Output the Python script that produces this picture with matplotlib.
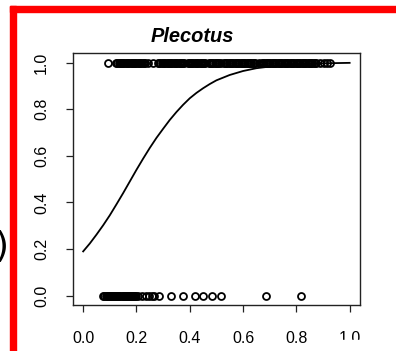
import matplotlib
matplotlib.use("Agg")
import matplotlib.pyplot as plt
from matplotlib.patches import Rectangle

# Presence (1) and absence (0) observations along the habitat gradient
present_x = [0.092, 0.124, 0.128, 0.133, 0.137, 0.142, 0.146, 0.151, 0.155, 0.160,
             0.164, 0.169, 0.173, 0.178, 0.182, 0.187, 0.191, 0.196, 0.200, 0.205,
             0.209, 0.214, 0.218, 0.223, 0.227, 0.232, 0.244, 0.262, 0.281, 0.286,
             0.290, 0.295, 0.299, 0.304, 0.308, 0.313, 0.317, 0.322, 0.326, 0.331,
             0.335, 0.340, 0.344, 0.349, 0.353, 0.358, 0.362, 0.367, 0.371, 0.376,
             0.380, 0.392, 0.396, 0.401, 0.405, 0.410, 0.414, 0.419, 0.423, 0.428,
             0.432, 0.437, 0.441, 0.446, 0.450, 0.455, 0.459, 0.471, 0.475, 0.480,
             0.484, 0.489, 0.493, 0.498, 0.502, 0.507, 0.511, 0.516, 0.528, 0.532,
             0.537, 0.541, 0.546, 0.550, 0.555, 0.559, 0.564, 0.568, 0.573, 0.577,
             0.582, 0.586, 0.591, 0.595, 0.600, 0.604, 0.609, 0.613, 0.618, 0.622,
             0.627, 0.631, 0.636, 0.640, 0.645, 0.658, 0.671, 0.676, 0.680, 0.685,
             0.689, 0.694, 0.698, 0.703, 0.707, 0.712, 0.716, 0.721, 0.725, 0.730,
             0.734, 0.739, 0.743, 0.748, 0.752, 0.757, 0.761, 0.766, 0.770, 0.775,
             0.779, 0.784, 0.788, 0.793, 0.797, 0.802, 0.806, 0.811, 0.815, 0.820,
             0.824, 0.829, 0.833, 0.838, 0.842, 0.847, 0.851, 0.856, 0.860, 0.865,
             0.869, 0.874, 0.888, 0.905, 0.916, 0.925]
absent_x = [0.076, 0.080, 0.084, 0.088, 0.092, 0.096, 0.100, 0.104, 0.108, 0.112,
            0.116, 0.120, 0.124, 0.128, 0.132, 0.136, 0.140, 0.144, 0.148, 0.152,
            0.156, 0.160, 0.164, 0.168, 0.172, 0.176, 0.180, 0.184, 0.188, 0.192,
            0.196, 0.200, 0.206, 0.222, 0.236, 0.248, 0.258, 0.266, 0.283, 0.328,
            0.376, 0.419, 0.451, 0.482, 0.516, 0.687, 0.816]

# Fitted probability of presence
fit_x = [0.000, 0.025, 0.050, 0.075, 0.100, 0.125, 0.150, 0.175, 0.200, 0.225,
         0.250, 0.275, 0.300, 0.325, 0.350, 0.375, 0.400, 0.425, 0.450, 0.475,
         0.500, 0.550, 0.600, 0.650, 0.700, 0.750, 0.800, 0.850, 0.900, 0.950, 1.000]
fit_y = [0.190, 0.224, 0.262, 0.302, 0.345, 0.392, 0.440, 0.490, 0.540, 0.588,
         0.634, 0.677, 0.716, 0.754, 0.788, 0.819, 0.847, 0.870, 0.890, 0.908,
         0.924, 0.947, 0.964, 0.976, 0.983, 0.989, 0.993, 0.995, 0.997, 0.998, 0.999]

ticks = [0.0, 0.2, 0.4, 0.6, 0.8, 1.0]
tick_labels = ["0.0", "0.2", "0.4", "0.6", "0.8", "1.0"]
title = "Plecotus"

W, H = 396, 351
fig = plt.figure(figsize=(W / 100, H / 100), dpi=100)
fig.patch.set_facecolor("white")
plt.rcParams["font.family"] = ["Liberation Sans", "DejaVu Sans"]

ax = fig.add_axes([72.5 / W, (H - 305) / H, (360.3 - 72.5) / W, (305 - 53.3) / H])
ax.plot(fit_x, fit_y, color="black", lw=1.3, zorder=2)
ax.plot(present_x, [1] * len(present_x), ls="none", marker="o", ms=5.0,
        mfc="none", mec="black", mew=1.3, zorder=3)
ax.plot(absent_x, [0] * len(absent_x), ls="none", marker="o", ms=5.0,
        mfc="none", mec="black", mew=1.3, zorder=3)

ax.set_xlim(-0.04, 1.04)
ax.set_ylim(-0.04, 1.04)
ax.set_xticks(ticks)
ax.set_xticklabels(tick_labels, fontsize=11.5)
ax.set_yticks(ticks)
ax.set_yticklabels(tick_labels, fontsize=11.5, rotation=90, va="center")
ax.tick_params(axis="both", direction="out", length=5, width=0.9, color="#222222")
ax.tick_params(axis="x", pad=14)
ax.tick_params(axis="y", pad=12)
for s in ax.spines.values():
    s.set_linewidth(1.0)
    s.set_color("#222222")

fig.text(192.5 / W, 1 - 36 / H, title, ha="center", va="center",
         fontsize=14.4, fontweight="bold", fontstyle="italic", color="black")

# Red frame along the top and left edges
fig.patches.append(Rectangle((10 / W, 1 - 12 / H), (W - 10) / W, 6 / H,
                             transform=fig.transFigure, color="#ff0000", zorder=5))
fig.patches.append(Rectangle((10 / W, 0), 6 / W, (H - 6) / H,
                             transform=fig.transFigure, color="#ff0000", zorder=5))

# Neighbouring bracket at the left edge
fig.text(8 / W, 1 - 247 / H, ")", ha="right", va="center", fontsize=26,
         color="black", family="DejaVu Sans")

# Lower-right corner strip
fig.patches.append(Rectangle((335 / W, 0), (W - 335) / W, (H - 340) / H,
                             transform=fig.transFigure, color="white", zorder=10))

fig.savefig("out.png", dpi=100, facecolor="white")
